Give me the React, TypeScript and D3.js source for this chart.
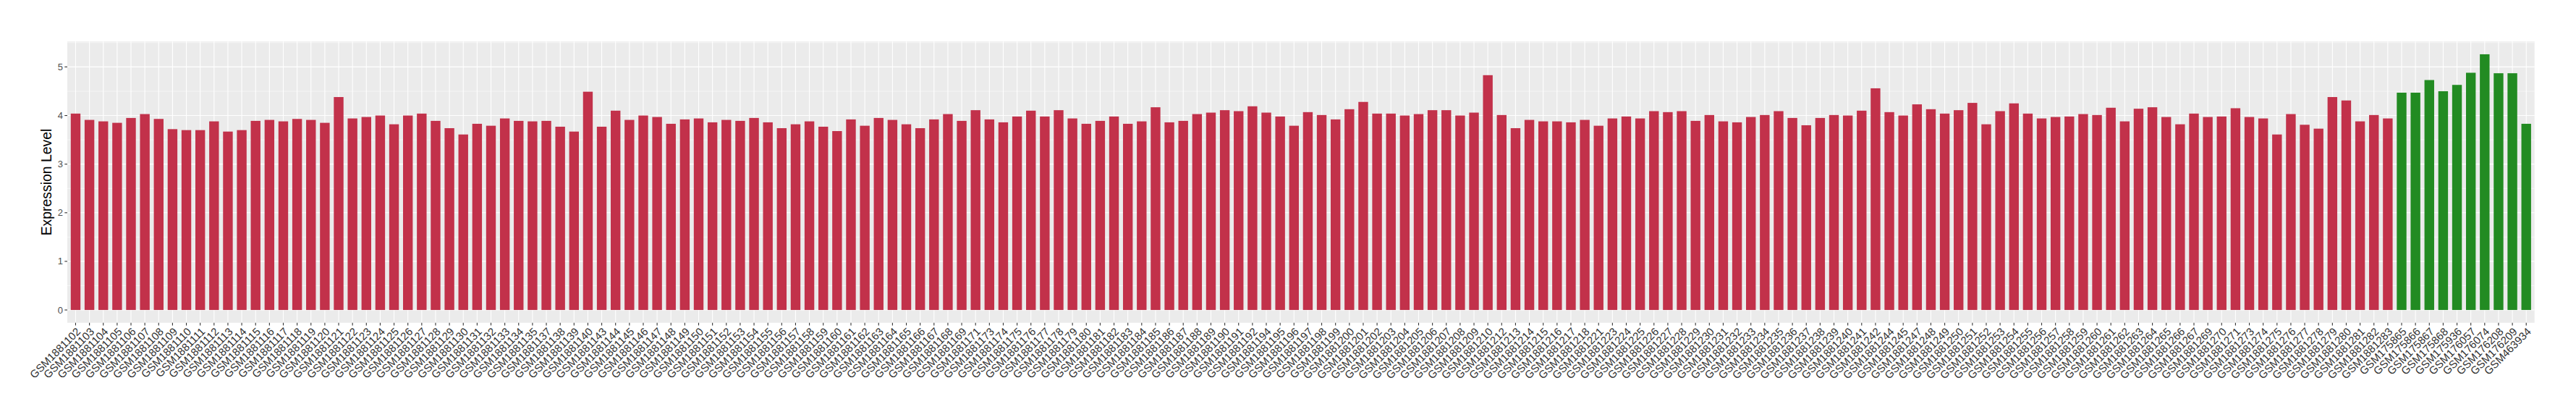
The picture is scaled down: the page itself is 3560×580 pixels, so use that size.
import React from "react";
import * as d3 from "d3";

// ---- data ----
const redSamples: string[] = [
  "GSM1881102","GSM1881103","GSM1881104","GSM1881105","GSM1881106","GSM1881107","GSM1881108","GSM1881109","GSM1881110","GSM1881111",
  "GSM1881112","GSM1881113","GSM1881114","GSM1881115","GSM1881116","GSM1881117","GSM1881118","GSM1881119","GSM1881120","GSM1881121",
  "GSM1881122","GSM1881123","GSM1881124","GSM1881125","GSM1881126","GSM1881127","GSM1881128","GSM1881129","GSM1881130","GSM1881131",
  "GSM1881132","GSM1881133","GSM1881134","GSM1881135","GSM1881137","GSM1881138","GSM1881139","GSM1881140","GSM1881143","GSM1881144",
  "GSM1881145","GSM1881146","GSM1881147","GSM1881148","GSM1881149","GSM1881150","GSM1881151","GSM1881152","GSM1881153","GSM1881154",
  "GSM1881155","GSM1881156","GSM1881157","GSM1881158","GSM1881159","GSM1881160","GSM1881161","GSM1881162","GSM1881163","GSM1881164",
  "GSM1881165","GSM1881166","GSM1881167","GSM1881168","GSM1881169","GSM1881171","GSM1881173","GSM1881174","GSM1881175","GSM1881176",
  "GSM1881177","GSM1881178","GSM1881179","GSM1881180","GSM1881181","GSM1881182","GSM1881183","GSM1881184","GSM1881185","GSM1881186",
  "GSM1881187","GSM1881188","GSM1881189","GSM1881190","GSM1881191","GSM1881192","GSM1881194","GSM1881195","GSM1881196","GSM1881197",
  "GSM1881198","GSM1881199","GSM1881200","GSM1881201","GSM1881202","GSM1881203","GSM1881204","GSM1881205","GSM1881206","GSM1881207",
  "GSM1881208","GSM1881209","GSM1881210","GSM1881212","GSM1881213","GSM1881214","GSM1881215","GSM1881216","GSM1881217","GSM1881218",
  "GSM1881221","GSM1881223","GSM1881224","GSM1881225","GSM1881226","GSM1881227","GSM1881228","GSM1881229","GSM1881230","GSM1881231",
  "GSM1881232","GSM1881233","GSM1881234","GSM1881235","GSM1881236","GSM1881237","GSM1881238","GSM1881239","GSM1881240","GSM1881241",
  "GSM1881242","GSM1881244","GSM1881245","GSM1881247","GSM1881248","GSM1881249","GSM1881250","GSM1881251","GSM1881252","GSM1881253",
  "GSM1881254","GSM1881255","GSM1881256","GSM1881257","GSM1881258","GSM1881259","GSM1881260","GSM1881261","GSM1881262","GSM1881263",
  "GSM1881264","GSM1881265","GSM1881266","GSM1881267","GSM1881269","GSM1881270","GSM1881271","GSM1881273","GSM1881274","GSM1881275",
  "GSM1881276","GSM1881277","GSM1881278","GSM1881279","GSM1881280","GSM1881281","GSM1881282","GSM1881283",
];
const redValues: number[] = [
  4.04,3.91,3.88,3.85,3.95,4.03,3.93,3.72,3.70,3.70,
  3.88,3.67,3.70,3.89,3.91,3.88,3.93,3.91,3.85,4.38,
  3.94,3.97,4.00,3.82,4.00,4.04,3.89,3.74,3.61,3.83,
  3.79,3.94,3.89,3.88,3.89,3.77,3.67,4.49,3.77,4.10,
  3.91,4.00,3.97,3.83,3.92,3.94,3.86,3.91,3.89,3.95,
  3.86,3.74,3.82,3.88,3.77,3.68,3.92,3.79,3.95,3.91,
  3.82,3.74,3.92,4.03,3.89,4.11,3.92,3.86,3.98,4.10,
  3.98,4.11,3.94,3.83,3.89,3.98,3.83,3.88,4.17,3.86,
  3.89,4.03,4.06,4.11,4.09,4.19,4.06,3.98,3.79,4.07,
  4.01,3.92,4.13,4.28,4.04,4.04,4.00,4.03,4.11,4.11,
  4.00,4.06,4.83,4.01,3.74,3.91,3.88,3.88,3.86,3.91,
  3.79,3.94,3.98,3.94,4.09,4.07,4.09,3.89,4.01,3.88,
  3.86,3.97,4.01,4.09,3.95,3.80,3.95,4.01,4.00,4.10,
  4.56,4.07,4.00,4.23,4.13,4.04,4.11,4.26,3.82,4.09,
  4.25,4.04,3.94,3.97,3.98,4.03,4.01,4.16,3.88,4.14,
  4.17,3.97,3.82,4.04,3.97,3.98,4.15,3.97,3.94,3.61,
  4.03,3.81,3.73,4.38,4.31,3.88,4.01,3.94,
];
const greenSamples: string[] = [
  "GSM175865","GSM175866","GSM175867","GSM175868","GSM175936",
  "GSM176057","GSM176074","GSM176208","GSM176209","GSM463934",
];
const greenValues: number[] = [4.47,4.47,4.73,4.50,4.63,4.88,5.26,4.87,4.87,3.83];
const yTicks: number[] = [0, 1, 2, 3, 4, 5];
const yTitle = "Expression Level";
const redColor = "#C2314A";
const greenColor = "#228B22";

const W = 3560;
const H = 580;
const panel = { left: 93, right: 3502.7, top: 57.3, bottom: 445.7 };
const FONT = "'Liberation Sans', Arial, Helvetica, sans-serif";

export default function App() {
  const rows = [
    ...redSamples.map((s, i) => ({ id: s, v: redValues[i], color: redColor })),
    ...greenSamples.map((s, i) => ({ id: s, v: greenValues[i], color: greenColor })),
  ];
  const x = d3
    .scalePoint<string>()
    .domain(rows.map((r) => r.id))
    .range([panel.left, panel.right])
    .padding(0.6);
  const step = x.step();
  const barW = step * 0.7;
  const maxV = d3.max(rows, (r) => r.v) as number;
  const pad = maxV * 0.05;
  const y = d3
    .scaleLinear()
    .domain([-pad, maxV + pad])
    .range([panel.bottom, panel.top]);
  const [d0, d1] = y.domain();
  const minor = d3.range(-0.5, 6, 1).filter((v) => v >= d0 && v <= d1);

  return (
    <svg
      width={W}
      height={H}
      style={{ position: "absolute", left: 0, top: 0, display: "block", background: "#fff" }}
      fontFamily={FONT}
    >
      <rect
        x={panel.left}
        y={panel.top}
        width={panel.right - panel.left}
        height={panel.bottom - panel.top}
        fill="#EBEBEB"
      />
      {minor.map((v) => (
        <line key={"mn" + v} x1={panel.left} x2={panel.right} y1={y(v)} y2={y(v)} stroke="#fff" strokeWidth={0.55} />
      ))}
      {yTicks.map((v) => (
        <line key={"mj" + v} x1={panel.left} x2={panel.right} y1={y(v)} y2={y(v)} stroke="#fff" strokeWidth={1.1} />
      ))}
      {rows.map((r) => (
        <line key={"vg" + r.id} x1={x(r.id)} x2={x(r.id)} y1={panel.top} y2={panel.bottom} stroke="#fff" strokeWidth={1.1} />
      ))}
      {rows.map((r) => (
        <rect
          key={"b" + r.id}
          x={(x(r.id) as number) - barW / 2}
          y={y(r.v)}
          width={barW}
          height={y(0) - y(r.v)}
          fill={r.color}
        />
      ))}
      {/* y axis */}
      {yTicks.map((v) => (
        <g key={"yt" + v}>
          <line x1={panel.left - 3.7} x2={panel.left} y1={y(v)} y2={y(v)} stroke="#333" strokeWidth={1.1} />
          <text
            x={panel.left - 6}
            y={y(v)}
            textAnchor="end"
            dominantBaseline="central"
            fontSize={13}
            fill="#4D4D4D"
          >
            {v}
          </text>
        </g>
      ))}
      {/* x axis */}
      {rows.map((r) => {
        const cx = x(r.id) as number;
        return (
          <g key={"xt" + r.id}>
            <line x1={cx} x2={cx} y1={panel.bottom} y2={panel.bottom + 3.7} stroke="#333" strokeWidth={1.1} />
            <text
              transform={`translate(${cx},${panel.bottom + 5.5}) rotate(-45)`}
              textAnchor="end"
              dy="0.72em"
              fontSize={15}
              fill="#333"
            >
              {r.id}
            </text>
          </g>
        );
      })}
      <text
        transform={`translate(71,${(panel.top + panel.bottom) / 2}) rotate(-90)`}
        textAnchor="middle"
        fontSize={19.4}
        fill="#000"
      >
        {yTitle}
      </text>
    </svg>
  );
}
